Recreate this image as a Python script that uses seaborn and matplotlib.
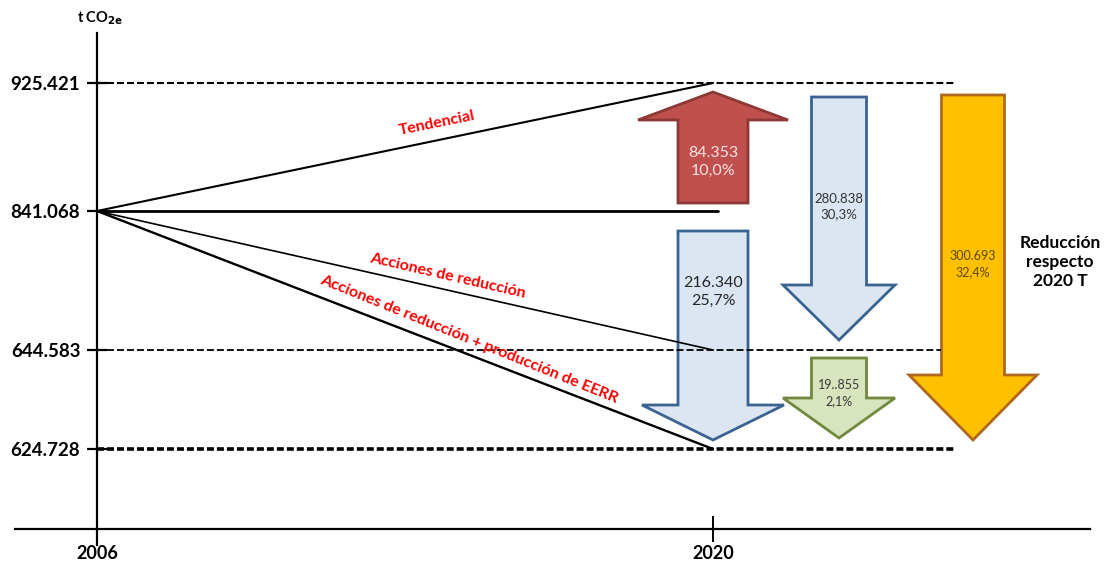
import numpy as np
import pandas as pd
import matplotlib
matplotlib.use("Agg")
import matplotlib.pyplot as plt
import seaborn as sns

# ---------------- data ----------------
years = [2006, 2020]
base_value = 841.068
level_values = [925.421, 841.068, 644.583, 624.728]
level_labels = ["925.421", "841.068", "644.583", "624.728"]
scenario_names = ["Tendencial", "Sin cambio", "Acciones de reducción",
                  "Acciones de reducción + producción de EERR"]
scenario_2020 = [925.421, 841.068, 644.583, 624.728]
arrow_from = [841.068, 841.068, 925.421, 644.583, 925.421]
arrow_to = [925.421, 624.728, 644.583, 624.728, 624.728]
arrow_labels = ["84.353\n10,0%", "216.340\n25,7%", "280.838\n30,3%",
                "19..855\n2,1%", "300.693\n32,4%"]
x_labels = ["2006", "2020"]
side_label = "Reducción\nrespecto\n2020 T"
unit_label = r"t CO$_{\mathbf{2e}}$"

# ---------------- layout (schematic, non-linear vertical axis) ----------------
W, H = 1104, 565
X0_PX, PX_PER_YEAR = 97, 44.0
level_px = {925.421: 83, 841.068: 211, 644.583: 350, 624.728: 449}

lv = np.array(sorted(level_px))
lp = np.array([level_px[v] for v in lv], dtype=float)
slope_lo = (lp[0] - lp[1]) / (lv[1] - lv[0])
slope_hi = (lp[-2] - lp[-1]) / (lv[-1] - lv[-2])
vals_ext = np.concatenate([[0.0], lv, [2000.0]])
px_ext = np.concatenate([[lp[0] + lv[0] * slope_lo], lp,
                         [lp[-1] - (2000.0 - lv[-1]) * slope_hi]])
s_ext = -px_ext


def fwd(v):
    return np.interp(np.asarray(v, dtype=float), vals_ext, s_ext)


def inv(s):
    return np.interp(np.asarray(s, dtype=float), s_ext, vals_ext)


def xyear(px):
    return 2006 + (px - X0_PX) / PX_PER_YEAR


sns.set_theme(style="white")
plt.rcParams["font.family"] = ["Lato", "DejaVu Sans"]

fig = plt.figure(figsize=(W / 100, H / 100), dpi=100)
ax = fig.add_axes([0, 0, 1, 1])
ax.set_yscale("function", functions=(fwd, inv))
ax.set_xlim(xyear(0), xyear(W))
ax.set_ylim(inv(-H), inv(0))
ax.set_facecolor("white")

# spines as the chart axes
for side in ["top", "right"]:
    ax.spines[side].set_visible(False)
ax.spines["left"].set_position(("data", 2006))
ax.spines["left"].set_bounds(inv(-545), inv(-33))
ax.spines["bottom"].set_position(("data", float(inv(-529))))
ax.spines["bottom"].set_bounds(xyear(15), xyear(1090))
for side in ["left", "bottom"]:
    ax.spines[side].set_color("black")
    ax.spines[side].set_linewidth(1.6)
    ax.spines[side].set_zorder(6)

ax.set_yticks(level_values)
ax.set_yticklabels(level_labels)
ax.yaxis.set_minor_locator(matplotlib.ticker.NullLocator())
ax.tick_params(axis="y", direction="inout", length=14, width=1.6,
               pad=5, labelsize=13.5, colors="black", left=True)
for t in ax.get_yticklabels():
    t.set_fontweight("bold")

ax.set_xticks(years)
ax.set_xticklabels(x_labels)
ax.tick_params(axis="x", direction="inout", length=19, width=1.4,
               pad=2, labelsize=13, colors="black", bottom=True)
for t in ax.get_xticklabels():
    t.set_fontweight("bold")
ax.xaxis.get_major_ticks()[0].tick1line.set_visible(False)

# dashed reference levels
dash_specs = {925.421: (2025.5, 1.5), 644.583: (xyear(941), 1.3),
              624.728: (2025.5, 2.6)}
for v in [925.421, 644.583, 624.728]:
    xend, lw = dash_specs[v]
    ax.plot([2006, xend], [v, v], color="black", lw=lw,
            dashes=(7.0 / lw / 1.39, 3.0 / lw / 1.39), zorder=4)

# arrows
arrow_x = [2020, 2020, xyear(839), xyear(839), xyear(973)]
arrow_pad = [(8, 9), (20, 9), (14, 10), (8, 11), (12, 9)]
arrow_head = [28, 35, 55, 40, 65]
arrow_shaft_hw = [35, 35, 27.5, 27.5, 31.5]
arrow_head_hw = [75, 71, 56, 56, 64]
arrow_fc = ["#C0504D", "#DCE6F2", "#DCE6F2", "#D7E4BD", "#FFC000"]
arrow_ec = ["#8C3836", "#3A6391", "#3A6391", "#71893F", "#B0681E"]
arrow_tc = ["#F8E4E3", "#262626", "#333333", "#3A3A3A", "#5A4600"]
arrow_fs = [11.5, 11.5, 9.5, 9, 9]
arrow_tfrac = [0.37, 0.29, 0.45, 0.44, 0.49]

for i in range(len(arrow_from)):
    sf, st = fwd(arrow_from[i]), fwd(arrow_to[i])
    d = 1.0 if st > sf else -1.0
    s_tail = sf + d * arrow_pad[i][0]
    s_tip = st - d * arrow_pad[i][1]
    s_hb = s_tip - d * arrow_head[i]
    xc = arrow_x[i]
    shw = arrow_shaft_hw[i] / PX_PER_YEAR
    hhw = arrow_head_hw[i] / PX_PER_YEAR
    xs = [xc - shw, xc - shw, xc - hhw, xc, xc + hhw, xc + shw, xc + shw]
    ss = [s_tail, s_hb, s_hb, s_tip, s_hb, s_hb, s_tail]
    ax.fill(xs, inv(ss), facecolor=arrow_fc[i], edgecolor=arrow_ec[i],
            lw=2.0, joinstyle="miter", zorder=2)
    s_txt = s_tail + (s_tip - s_tail) * arrow_tfrac[i]
    ax.text(xc, float(inv(s_txt)), arrow_labels[i], ha="center", va="center",
            fontsize=arrow_fs[i], color=arrow_tc[i], linespacing=1.35, zorder=7)

# scenario trajectories
line_widths = [1.5, 2.0, 1.2, 1.7]
line_end = [2020, xyear(718), 2020, 2020]
for name, end, lw, xe in zip(scenario_names, scenario_2020, line_widths, line_end):
    df = pd.DataFrame({"year": [2006, xe], "value": [base_value, end]})
    sns.lineplot(data=df, x="year", y="value", color="black", lw=lw, ax=ax,
                 zorder=5, legend=False)

# red scenario labels
label_pos = [(437, 123, 11.5), (448, 276, -13.0), (469, 339, -22.0)]
label_txt = ["Tendencial", "Acciones de reducción",
             "Acciones de reducción + producción de EERR"]
for (px, py, ang), txt in zip(label_pos, label_txt):
    ax.text(xyear(px), float(inv(-py)), txt, color="#FF0000", fontsize=11.5,
            fontweight="bold", rotation=ang, rotation_mode="anchor",
            ha="center", va="center", zorder=7)

ax.text(xyear(1060), float(inv(-262)), side_label, ha="center", va="center",
        fontsize=12.5, fontweight="bold", color="black", linespacing=1.2)
ax.text(xyear(100), float(inv(-18)), unit_label, ha="center", va="center",
        fontsize=10.5, fontweight="bold", color="black")

ax.set_xlabel("")
ax.set_ylabel("")
ax.grid(False)
fig.savefig("out.png", dpi=100, facecolor="white")
